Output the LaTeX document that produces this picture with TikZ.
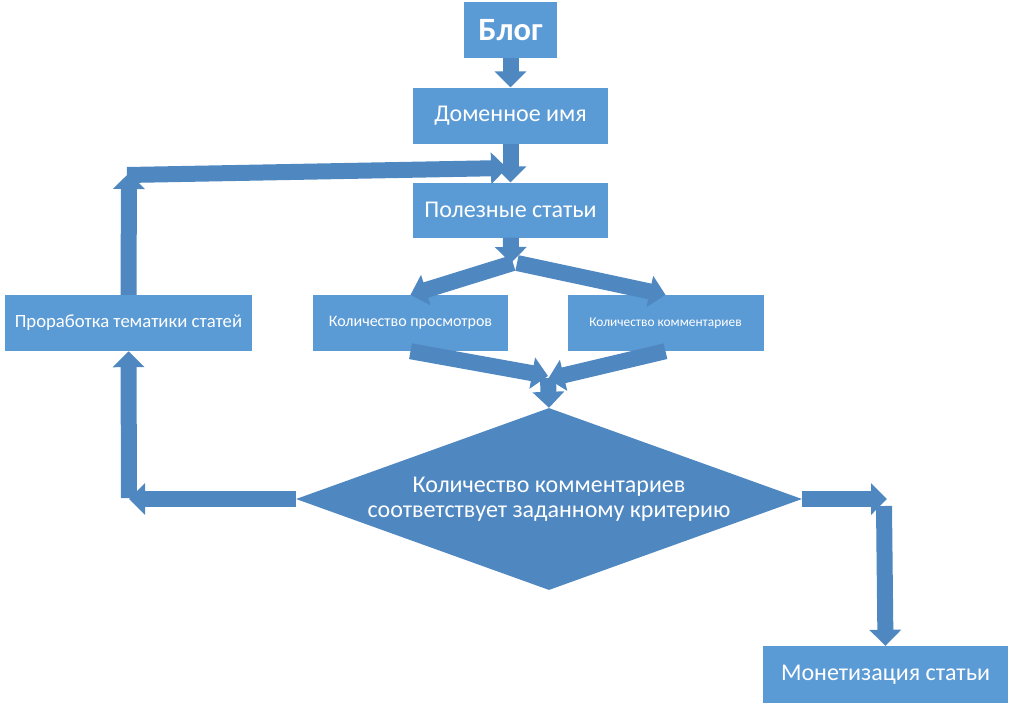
\documentclass[tikz,border=0pt]{standalone}
\usepackage{fontspec}
\setmainfont{Carlito}
\usetikzlibrary{arrows.meta,shapes.geometric}
\definecolor{boxblue}{HTML}{5B9BD5}
\definecolor{arrowblue}{HTML}{4F87C1}
\tikzset{
  box/.style={rectangle, fill=boxblue, text=white, inner sep=0pt},
  blk/.style={draw=arrowblue, line width=16pt, -{Triangle[width=31pt,length=16pt]}},
  fs/.style={font=\fontsize{#1}{#1}\selectfont}
}
\begin{document}
\begin{tikzpicture}[x=1pt,y=-1pt]
      \useasboundingbox (0,0) rectangle (1015,710);
      \node[box, font=\bfseries\fontsize{32.5}{32.5}\selectfont, minimum width=93pt, minimum height=56pt] (blog) at (510.5,30) {Блог};
      \node[box, fs=24, minimum width=195pt, minimum height=56pt] (domain) at (510.5,115.5) {Доменное имя};
      \node[box, fs=24, minimum width=195pt, minimum height=55pt] (useful) at (510.5,210) {Полезные статьи};
      \node[box, fs=16, minimum width=195pt, minimum height=56pt] (views) at (410.5,323) {Количество просмотров};
      \node[box, fs=13.4, minimum width=196pt, minimum height=56pt] (comments) at (665.5,323) {Количество комментариев};
      \node[box, fs=18.7, minimum width=247pt, minimum height=56pt] (topics) at (128.5,323) {Проработка тематики статей};
      \node[diamond, fill=arrowblue, text=white, inner sep=0pt, aspect=2.78, minimum width=506pt, minimum height=182pt, align=center, font=\fontsize{24}{25}\selectfont] (check) at (549,499) {Количество комментариев\\соответствует заданному критерию};
      \node[box, fs=24, minimum width=245pt, minimum height=57pt] (money) at (885.5,674.5) {Монетизация статьи};
      \coordinate (split) at (511,263);
      \coordinate (merge) at (548,376);
      \coordinate (topleft) at (129,173);
      \coordinate (loopend) at (507,168);
      \coordinate (lowleft) at (129,499);
      \coordinate (lowright) at (887,499);
      \coordinate (downstart) at (884,506);
      \begin{scope}[blk]
        \draw (blog) -- (domain);
        \draw (domain) -- (useful);
        \draw (useful) -- (split);
        \draw ([xshift=2pt]split) -- (views.north);
        \draw ([xshift=6pt]split) -- (comments.north);
        \draw (views.south) -- (merge);
        \draw (comments.south) -- ([yshift=-3pt]merge);
        \draw ([yshift=-2pt]merge) -- (check.north);
        \draw (check.west) -- (lowleft);
        \draw ([yshift=1pt]lowleft) -- (topics.south);
        \draw (topics.north) -- (topleft);
        \draw ([shift={(-2pt,-2pt)}]topleft) -- (loopend);
        \draw (check.east) -- (lowright);
        \draw (downstart) -- (money.north);
      \end{scope}
    \end{tikzpicture}
\end{document}
